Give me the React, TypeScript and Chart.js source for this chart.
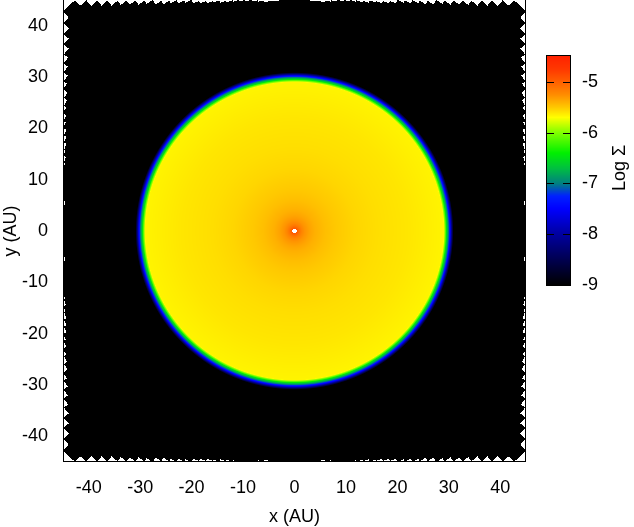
import { useEffect, useRef } from 'react';
import { Chart, registerables } from 'chart.js';
Chart.register(...registerables);

// ---- data ----
const xTicks = [-40, -30, -20, -10, 0, 10, 20, 30, 40];
const yTicks = [-40, -30, -20, -10, 0, 10, 20, 30, 40];
const colorbarTicks = [-9, -8, -7, -6, -5];
const axisMin = -45;
const axisMax = 45;
const colorMin = -9;
const colorMax = -4.47;

// radial surface-density profile of the disk (log Sigma vs r in AU)
const radiusAU = [0.45, 0.7, 1, 1.5, 2, 3, 4, 6, 8, 12, 16, 22, 29.0, 29.4, 29.7, 30.0, 30.3, 30.6, 30.9];
const logSigma = [-4.95, -5.03, -5.12, -5.22, -5.28, -5.35, -5.4, -5.46, -5.5, -5.55, -5.58, -5.61, -5.66, -6.2, -6.7, -7.1, -7.6, -8.3, -9.0];
const holeRadiusAU = 0.45;

// simulation grid (polar) used for the map
const gridAngularCells = 240;
const gridRadialStep = 0.25;

// palette
const paletteValues = [-9, -8.5, -8, -7.5, -7.25, -7, -6.7, -6.4, -6, -5.7, -5.5, -5.25, -5, -4.75, -4.47];
const paletteColors = ['#000000', '#000050', '#0000a0', '#0000ff', '#0020ff', '#008080', '#00c040', '#00f000', '#80ff00', '#ffff00', '#ffc800', '#ff8c00', '#ff6000', '#ff3800', '#ff2000'];

const FONT = { family: "'Liberation Sans', Arial, sans-serif", size: 18 };

const paletteRGB = paletteColors.map((c) => [
  parseInt(c.slice(1, 3), 16),
  parseInt(c.slice(3, 5), 16),
  parseInt(c.slice(5, 7), 16),
]);

function colorFor(v: number): number[] {
  if (v <= paletteValues[0]) return paletteRGB[0];
  const n = paletteValues.length;
  if (v >= paletteValues[n - 1]) return paletteRGB[n - 1];
  for (let k = 1; k < n; k++) {
    if (v <= paletteValues[k]) {
      const t = (v - paletteValues[k - 1]) / (paletteValues[k] - paletteValues[k - 1]);
      const a = paletteRGB[k - 1];
      const b = paletteRGB[k];
      return [a[0] + t * (b[0] - a[0]), a[1] + t * (b[1] - a[1]), a[2] + t * (b[2] - a[2])];
    }
  }
  return paletteRGB[n - 1];
}

function profileAt(r: number): number {
  if (r <= radiusAU[0]) return logSigma[0];
  for (let k = 1; k < radiusAU.length; k++) {
    if (r <= radiusAU[k]) {
      const t = (r - radiusAU[k - 1]) / (radiusAU[k] - radiusAU[k - 1]);
      return logSigma[k - 1] + t * (logSigma[k] - logSigma[k - 1]);
    }
  }
  return logSigma[logSigma.length - 1];
}

const heatmapPlugin = {
  id: 'diskMap',
  beforeDatasetsDraw(chart: any) {
    const { ctx, chartArea: a, scales } = chart;
    const xs = scales.x;
    const ys = scales.y;
    const left = Math.round(a.left);
    const top = Math.round(a.top);
    const W = Math.round(a.right) - left;
    const H = Math.round(a.bottom) - top;
    const img = ctx.createImageData(W, H);
    const d = img.data;
    const xv = new Float64Array(W);
    for (let i = 0; i < W; i++) xv[i] = xs.getValueForPixel(left + i + 0.5);
    const dTh = (2 * Math.PI) / gridAngularCells;
    const lim = Math.min(Math.abs(xs.min), Math.abs(xs.max), Math.abs(ys.min), Math.abs(ys.max));
    for (let j = 0; j < H; j++) {
      const yv = ys.getValueForPixel(top + j + 0.5);
      for (let i = 0; i < W; i++) {
        const x = xv[i];
        const r = Math.hypot(x, yv);
        let th = Math.atan2(yv, x);
        if (th < 0) th += 2 * Math.PI;
        const ja = Math.floor(th / dTh);
        const ta = ja * dTh;
        const tb = ta + dTh;
        const ro = (Math.floor(r / gridRadialStep) + 1) * gridRadialStep;
        const ok =
          Math.abs(ro * Math.cos(ta)) <= lim &&
          Math.abs(ro * Math.sin(ta)) <= lim &&
          Math.abs(ro * Math.cos(tb)) <= lim &&
          Math.abs(ro * Math.sin(tb)) <= lim;
        const p = (j * W + i) * 4;
        if (!ok || r < holeRadiusAU) {
          d[p] = 255; d[p + 1] = 255; d[p + 2] = 255; d[p + 3] = 255;
          continue;
        }
        const c = colorFor(profileAt(r));
        d[p] = c[0]; d[p + 1] = c[1]; d[p + 2] = c[2]; d[p + 3] = 255;
      }
    }
    ctx.putImageData(img, left, top);
  },
  afterDraw(chart: any) {
    const { ctx, chartArea: a } = chart;
    ctx.save();
    ctx.strokeStyle = '#000';
    ctx.lineWidth = 1;
    ctx.strokeRect(a.left + 0.5, a.top - 0.5, a.right - a.left - 1, a.bottom - a.top);
    ctx.restore();
  },
};

const colorbarPlugin = {
  id: 'colorbar',
  beforeDatasetsDraw(chart: any) {
    const { ctx, chartArea: a, scales } = chart;
    const ys = scales.y;
    for (let py = Math.round(a.top); py < Math.round(a.bottom); py++) {
      const c = colorFor(ys.getValueForPixel(py + 0.5));
      ctx.fillStyle = `rgb(${Math.round(c[0])},${Math.round(c[1])},${Math.round(c[2])})`;
      ctx.fillRect(a.left, py, a.right - a.left, 1);
    }
  },
  afterDraw(chart: any) {
    const { ctx, chartArea: a, scales } = chart;
    const ys = scales.y;
    ctx.save();
    ctx.strokeStyle = '#000';
    ctx.lineWidth = 1;
    ctx.beginPath();
    for (const v of colorbarTicks) {
      const py = Math.round(ys.getPixelForValue(v)) + 0.5;
      ctx.moveTo(a.left, py);
      ctx.lineTo(a.left + 8, py);
      ctx.moveTo(a.right - 8, py);
      ctx.lineTo(a.right, py);
    }
    ctx.stroke();
    ctx.strokeRect(a.left + 0.5, a.top + 0.5, a.right - a.left - 1, a.bottom - a.top);
    ctx.fillStyle = '#000';
    ctx.font = `${FONT.size}px ${FONT.family}`;
    ctx.textAlign = 'center';
    ctx.textBaseline = 'middle';
    ctx.translate(74, 128);
    ctx.rotate(-Math.PI / 2);
    ctx.fillText('Log Σ', 0, 0);
    ctx.restore();
  },
};

const noPadX = (s: any, h: number) => {
  s.height = h;
  s.paddingLeft = 0;
  s.paddingRight = 0;
  s.paddingTop = 0;
  s.paddingBottom = 0;
};
const noPadY = (s: any, w: number) => {
  s.width = w;
  s.paddingLeft = 0;
  s.paddingRight = 0;
  s.paddingTop = 0;
  s.paddingBottom = 0;
};

export default function App() {
  const mainRef = useRef<HTMLCanvasElement>(null);
  const cbRef = useRef<HTMLCanvasElement>(null);

  useEffect(() => {
    Chart.defaults.color = '#000';
    const main = new Chart(mainRef.current as HTMLCanvasElement, {
      type: 'scatter',
      data: { datasets: [{ data: [], pointRadius: 0 }] },
      options: {
        animation: false,
        responsive: false,
        devicePixelRatio: 1,
        layout: { padding: { top: 0, right: 108, bottom: 0, left: 0 } },
        plugins: { legend: { display: false }, tooltip: { enabled: false } },
        scales: {
          x: {
            type: 'linear',
            min: axisMin,
            max: axisMax,
            afterBuildTicks: (s: any) => { s.ticks = xTicks.map((v) => ({ value: v })); },
            afterFit: (s: any) => noPadX(s, 65),
            ticks: { font: FONT, color: '#000', padding: 15, maxRotation: 0, autoSkip: false, callback: (v: any) => String(v) },
            grid: { display: false, drawTicks: false },
            border: { display: false },
            title: { display: true, text: 'x (AU)', font: FONT, color: '#000', padding: { top: 0, bottom: -1 } },
          },
          y: {
            type: 'linear',
            min: axisMin,
            max: axisMax,
            afterBuildTicks: (s: any) => { s.ticks = yTicks.map((v) => ({ value: v })); },
            afterFit: (s: any) => noPadY(s, 63),
            ticks: { font: FONT, color: '#000', padding: 15, autoSkip: false, callback: (v: any) => String(v) },
            grid: { display: false, drawTicks: false },
            border: { display: false },
            title: { display: true, text: 'y (AU)', font: FONT, color: '#000', padding: { top: 0, bottom: 0 } },
          },
        },
      },
      plugins: [heatmapPlugin],
    } as any);

    const cb = new Chart(cbRef.current as HTMLCanvasElement, {
      type: 'scatter',
      data: { datasets: [{ data: [], pointRadius: 0 }] },
      options: {
        animation: false,
        responsive: false,
        devicePixelRatio: 1,
        layout: { padding: { top: 15, right: 0, bottom: 15, left: 0 } },
        plugins: { legend: { display: false }, tooltip: { enabled: false } },
        scales: {
          x: { type: 'linear', display: false, min: 0, max: 1 },
          y: {
            type: 'linear',
            position: 'right',
            min: colorMin,
            max: colorMax,
            afterBuildTicks: (s: any) => { s.ticks = colorbarTicks.map((v) => ({ value: v })); },
            afterFit: (s: any) => noPadY(s, 63),
            ticks: { font: FONT, color: '#000', padding: 11, autoSkip: false, callback: (v: any) => String(v) },
            grid: { display: false, drawTicks: false },
            border: { display: false },
          },
        },
      },
      plugins: [colorbarPlugin],
    } as any);

    return () => {
      main.destroy();
      cb.destroy();
    };
  }, []);

  return (
    <div style={{ position: 'fixed', left: 0, top: 0, width: 634, height: 527, background: '#fff' }}>
      <canvas ref={mainRef} width={634} height={527} style={{ position: 'absolute', left: 0, top: 0, width: 634, height: 527 }} />
      <canvas ref={cbRef} width={88} height={260} style={{ position: 'absolute', left: 546, top: 40, width: 88, height: 260 }} />
    </div>
  );
}
